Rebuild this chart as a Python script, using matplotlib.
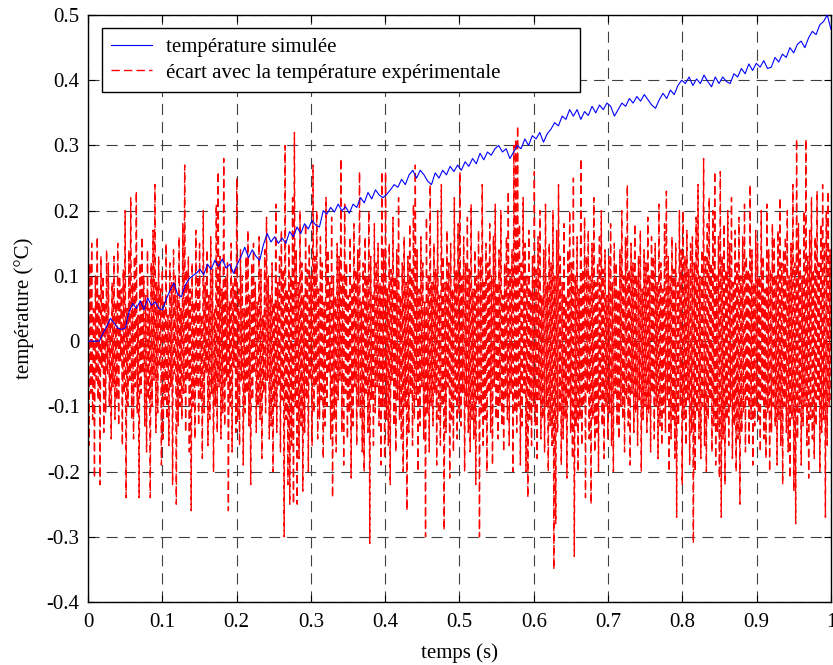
import numpy as np
import matplotlib
matplotlib.use("Agg")
import matplotlib.pyplot as plt

plt.rcParams.update({
    "font.family": "Liberation Serif",
    "font.size": 15,
    "axes.unicode_minus": False,
    "lines.scale_dashes": False,
    "xtick.direction": "in",
    "ytick.direction": "in",
})

# ---- data ----
simulated = [
    0, 0, 0, 0, 0.012, 0.022, 0.035, 0.028, 0.02, 0.018,
    0.02, 0.045, 0.058, 0.05, 0.062, 0.048, 0.066, 0.055, 0.06, 0.05,
    0.048, 0.065, 0.078, 0.089, 0.072, 0.068, 0.085, 0.095, 0.1, 0.104,
    0.11, 0.102, 0.118, 0.11, 0.124, 0.115, 0.126, 0.112, 0.118, 0.104,
    0.118, 0.13, 0.144, 0.128, 0.14, 0.13, 0.124, 0.148, 0.165, 0.152,
    0.16, 0.15, 0.158, 0.15, 0.168, 0.16, 0.175, 0.165, 0.18, 0.172,
    0.185, 0.178, 0.175, 0.2, 0.195, 0.205, 0.198, 0.21, 0.2, 0.206,
    0.196, 0.21, 0.205, 0.22, 0.212, 0.228, 0.218, 0.232, 0.224, 0.22,
    0.225, 0.232, 0.24, 0.236, 0.248, 0.24, 0.255, 0.262, 0.25, 0.262,
    0.255, 0.245, 0.24, 0.258, 0.25, 0.262, 0.255, 0.268, 0.26, 0.27,
    0.262, 0.275, 0.268, 0.28, 0.272, 0.288, 0.278, 0.29, 0.285, 0.295,
    0.3, 0.29, 0.295, 0.28, 0.29, 0.3, 0.295, 0.31, 0.3, 0.315,
    0.31, 0.32, 0.305, 0.318, 0.325, 0.335, 0.33, 0.345, 0.34, 0.355,
    0.345, 0.355, 0.34, 0.352, 0.346, 0.36, 0.35, 0.362, 0.355, 0.365,
    0.36, 0.345, 0.355, 0.365, 0.36, 0.372, 0.365, 0.375, 0.368, 0.378,
    0.37, 0.362, 0.357, 0.37, 0.38, 0.372, 0.385, 0.378, 0.392, 0.4,
    0.395, 0.405, 0.392, 0.402, 0.395, 0.408, 0.398, 0.39, 0.405, 0.395,
    0.405, 0.398, 0.395, 0.41, 0.405, 0.418, 0.41, 0.425, 0.415, 0.426,
    0.42, 0.43, 0.418, 0.42, 0.435, 0.428, 0.44, 0.435, 0.45, 0.442,
    0.455, 0.46, 0.45, 0.465, 0.475, 0.47, 0.485, 0.49, 0.5, 0.478,
]

ecart = [
    0.21, -0.16, 0.12, -0.08, 0.15, -0.12, 0.05, -0.21, 0.1, -0.06,
    0.16, -0.09, 0.07, -0.22, 0.13, -0.04, 0.1, -0.14, 0.06, -0.11,
    0.14, -0.05, 0.12, -0.1, 0.03, -0.15, 0.09, -0.07, 0.13, -0.12,
    0.06, -0.09, 0.15, -0.13, 0.1, -0.03, 0.08, -0.16, 0.11, -0.08,
    0.2, -0.24, 0.05, -0.1, 0.14, -0.06, 0.22, -0.12, 0.09, -0.15,
    0.13, -0.07, 0.23, -0.11, 0.04, -0.24, 0.12, -0.08, 0.16, -0.05,
    0.1, -0.13, 0.07, -0.17, 0.14, -0.09, 0.05, -0.24, 0.12, -0.1,
    0.17, -0.06, 0.24, -0.14, 0.09, -0.11, 0.13, -0.04, 0.08, -0.19,
    0.11, -0.15, 0.06, -0.09, 0.15, -0.12, 0.04, -0.16, 0.12, -0.07,
    0.09, -0.22, 0.14, -0.05, 0.1, -0.25, 0.07, -0.13, 0.16, -0.1,
    0.05, -0.12, 0.18, -0.08, 0.27, -0.14, 0.11, -0.06, 0.13, -0.17,
    0.08, -0.26, 0.12, -0.1, 0.06, -0.15, 0.17, -0.07, 0.1, -0.13,
    0.15, -0.09, 0.04, -0.18, 0.2, -0.11, 0.09, -0.05, 0.14, -0.16,
    0.07, -0.12, 0.16, -0.08, 0.11, -0.2, 0.05, -0.1, 0.21, -0.14,
    0.26, -0.07, 0.13, -0.15, 0.08, -0.11, 0.28, -0.13, 0.1, -0.06,
    0.12, -0.26, 0.06, -0.1, 0.15, -0.17, 0.09, -0.04, 0.11, -0.14,
    0.25, -0.12, 0.08, -0.16, 0.14, -0.06, 0.1, -0.19, 0.05, -0.11,
    0.13, -0.08, 0.17, -0.13, 0.07, -0.22, 0.12, -0.09, 0.15, -0.05,
    0.09, -0.14, 0.06, -0.1, 0.16, -0.12, 0.11, -0.18, 0.04, -0.08,
    0.14, -0.11, 0.19, -0.06, 0.1, -0.15, 0.07, -0.13, 0.12, -0.2,
    0.06, -0.1, 0.21, -0.14, 0.09, -0.07, 0.13, -0.17, 0.17, -0.09,
    0.11, -0.3, 0.3, -0.12, 0.08, -0.22, 0.15, -0.25, 0.1, -0.16,
    0.22, -0.25, 0.32, -0.1, 0.14, -0.25, 0.09, -0.18, 0.2, -0.13,
    0.12, -0.23, 0.07, -0.14, 0.18, -0.09, 0.11, -0.2, 0.15, -0.06,
    0.1, -0.16, 0.27, -0.11, 0.13, -0.07, 0.2, -0.15, 0.08, -0.12,
    0.16, -0.09, 0.12, -0.18, 0.06, -0.13, 0.22, -0.1, 0.14, -0.05,
    0.09, -0.15, 0.19, -0.24, 0.1, -0.12, 0.07, -0.17, 0.15, -0.09,
    0.13, -0.06, 0.28, -0.14, 0.1, -0.19, 0.21, -0.08, 0.12, -0.15,
    0.07, -0.11, 0.16, -0.21, 0.09, -0.13, 0.18, -0.07, 0.11, -0.16,
    0.14, -0.1, 0.26, -0.12, 0.06, -0.17, 0.12, -0.2, 0.16, -0.08,
    0.1, -0.14, 0.2, -0.31, 0.13, -0.09, 0.07, -0.16, 0.18, -0.11,
    0.12, -0.07, 0.15, -0.13, 0.09, -0.19, 0.26, -0.1, 0.14, -0.18,
    0.26, -0.12, 0.08, -0.16, 0.15, -0.22, 0.11, -0.06, 0.19, -0.13,
    0.1, -0.17, 0.14, -0.09, 0.22, -0.12, 0.07, -0.15, 0.12, -0.2,
    0.16, -0.1, 0.09, -0.26, 0.13, -0.14, 0.18, -0.08, 0.11, -0.16,
    0.21, -0.12, 0.27, -0.09, 0.14, -0.2, 0.08, -0.13, 0.16, -0.07,
    0.12, -0.15, 0.06, -0.3, 0.19, -0.11, 0.1, -0.17, 0.24, -0.1,
    0.09, -0.13, 0.15, -0.08, 0.11, -0.19, 0.2, -0.12, 0.07, -0.16,
    0.24, -0.1, 0.13, -0.29, 0.09, -0.14, 0.17, -0.07, 0.12, -0.21,
    0.15, -0.12, 0.08, -0.17, 0.22, -0.09, 0.11, -0.15, 0.18, -0.11,
    0.26, -0.13, 0.1, -0.08, 0.16, -0.2, 0.12, -0.1, 0.19, -0.14,
    0.11, -0.17, 0.21, -0.12, 0.08, -0.15, 0.14, -0.22, 0.1, -0.09,
    0.17, -0.3, 0.13, -0.11, 0.24, -0.16, 0.09, -0.12, 0.15, -0.2,
    0.12, -0.08, 0.18, -0.14, 0.1, -0.19, 0.16, -0.07, 0.21, -0.12,
    0.09, -0.15, 0.14, -0.1, 0.2, -0.13, 0.07, -0.17, 0.12, -0.09,
    0.16, -0.12, 0.23, -0.16, 0.11, -0.08, 0.14, -0.2, 0.3, -0.11,
    0.31, -0.14, 0.33, -0.1, 0.18, -0.19, 0.12, -0.13, 0.22, -0.08,
    0.15, -0.2, 0.1, -0.24, 0.17, -0.12, 0.08, -0.16, 0.13, -0.1,
    0.26, -0.13, 0.11, -0.18, 0.16, -0.09, 0.2, -0.15, 0.07, -0.12,
    0.14, -0.17, 0.21, -0.1, 0.09, -0.2, 0.15, -0.13, 0.12, -0.16,
    0.2, -0.35, 0.1, -0.28, 0.17, -0.14, 0.24, -0.11, 0.13, -0.19,
    0.09, -0.15, 0.18, -0.12, 0.07, -0.21, 0.14, -0.09, 0.2, -0.14,
    0.12, -0.18, 0.25, -0.33, 0.1, -0.13, 0.16, -0.2, 0.08, -0.12,
    0.28, -0.16, 0.11, -0.1, 0.19, -0.24, 0.13, -0.08, 0.17, -0.15,
    0.1, -0.25, 0.15, -0.12, 0.22, -0.17, 0.09, -0.14, 0.12, -0.2,
    0.16, -0.09, 0.2, -0.13, 0.11, -0.18, 0.14, -0.1, 0.07, -0.15,
    0.13, -0.11, 0.18, -0.16, 0.09, -0.2, 0.15, -0.08, 0.12, -0.13,
    0.08, -0.15, 0.14, -0.1, 0.2, -0.12, 0.1, -0.17, 0.16, -0.09,
    0.24, -0.13, 0.11, -0.19, 0.15, -0.08, 0.12, -0.14, 0.18, -0.11,
    0.1, -0.16, 0.13, -0.09, 0.17, -0.2, 0.08, -0.12, 0.14, -0.1,
    0.12, -0.14, 0.19, -0.11, 0.1, -0.17, 0.16, -0.08, 0.13, -0.15,
    0.15, -0.1, 0.09, -0.18, 0.21, -0.13, 0.12, -0.16, 0.08, -0.11,
    0.18, -0.14, 0.23, -0.09, 0.13, -0.2, 0.1, -0.15, 0.16, -0.12,
    0.11, -0.18, 0.15, -0.27, 0.09, -0.13, 0.2, -0.1, 0.14, -0.22,
    0.2, -0.12, 0.13, -0.16, 0.17, -0.09, 0.11, -0.19, 0.15, -0.14,
    0.16, -0.31, 0.12, -0.2, 0.19, -0.11, 0.24, -0.15, 0.1, -0.18,
    0.14, -0.1, 0.28, -0.16, 0.13, -0.2, 0.18, -0.12, 0.22, -0.09,
    0.12, -0.17, 0.2, -0.13, 0.26, -0.19, 0.1, -0.14, 0.16, -0.21,
    0.26, -0.27, 0.13, -0.15, 0.18, -0.22, 0.11, -0.12, 0.2, -0.16,
    0.15, -0.1, 0.22, -0.18, 0.09, -0.13, 0.17, -0.2, 0.12, -0.15,
    0.19, -0.25, 0.1, -0.14, 0.16, -0.11, 0.21, -0.17, 0.13, -0.09,
    0.11, -0.16, 0.24, -0.12, 0.14, -0.19, 0.09, -0.13, 0.17, -0.1,
    0.15, -0.12, 0.1, -0.17, 0.2, -0.09, 0.13, -0.15, 0.08, -0.18,
    0.21, -0.11, 0.14, -0.2, 0.11, -0.14, 0.18, -0.1, 0.16, -0.13,
    0.1, -0.19, 0.17, -0.12, 0.22, -0.16, 0.12, -0.22, 0.14, -0.1,
    0.16, -0.14, 0.2, -0.17, 0.1, -0.21, 0.15, -0.12, 0.24, -0.23,
    0.12, -0.28, 0.31, -0.15, 0.18, -0.11, 0.14, -0.19, 0.1, -0.13,
    0.2, -0.1, 0.31, -0.16, 0.13, -0.21, 0.17, -0.12, 0.22, -0.15,
    0.11, -0.18, 0.16, -0.13, 0.23, -0.09, 0.12, -0.2, 0.18, -0.14,
    0.24, -0.12, 0.15, -0.27, 0.2, -0.16, 0.23, -0.1, 0.14, -0.09,
]

x_ticks = [0, 0.1, 0.2, 0.3, 0.4, 0.5, 0.6, 0.7, 0.8, 0.9, 1]
x_labels = ["0", "0.1", "0.2", "0.3", "0.4", "0.5", "0.6", "0.7", "0.8", "0.9", "1"]
y_ticks = [-0.4, -0.3, -0.2, -0.1, 0, 0.1, 0.2, 0.3, 0.4, 0.5]
y_labels = ["-0.4", "-0.3", "-0.2", "-0.1", "0", "0.1", "0.2", "0.3", "0.4", "0.5"]

t_sim = np.linspace(0, 1, len(simulated))
t_ecart = np.linspace(0, 1, len(ecart))

fig = plt.figure(figsize=(8.33, 6.65), dpi=100)
ax = fig.add_axes([0.1056, 0.0947, 0.892, 0.8827])

ax.plot(t_sim, simulated, color="blue", linewidth=0.8,
        label="température simulée", zorder=3)
ax.plot(t_ecart, ecart, color="red", linewidth=1.0, linestyle=(0, (6, 3)),
        label="écart avec la température expérimentale", zorder=2)

ax.set_xlim(0, 1)
ax.set_ylim(-0.4, 0.5)
ax.set_xticks(x_ticks)
ax.set_xticklabels(x_labels)
ax.set_yticks(y_ticks)
ax.set_yticklabels(y_labels)
ax.tick_params(axis="x", top=True, length=5, width=0.8, pad=8)
ax.tick_params(axis="y", right=True, length=5, width=0.8, pad=6)

ax.grid(True, color="0.25", linestyle=(0, (8, 5)), linewidth=0.8)
ax.set_axisbelow(True)
for s in ax.spines.values():
    s.set_linewidth(1.0)

ax.set_xlabel("temps (s)", labelpad=8)
ax.set_ylabel("température (°C)", labelpad=9)

# legend frame stretched to the width seen in the reference
leg = ax.legend(loc="upper left", bbox_to_anchor=(0.0188, 0.872, 0.643, 0.106),
                mode="expand", fancybox=False, framealpha=1, edgecolor="black",
                borderpad=0.45, handlelength=1.97, handletextpad=0.67,
                borderaxespad=0, labelspacing=0.3)
leg.get_frame().set_linewidth(1.0)

fig.savefig("out.png", dpi=100)
